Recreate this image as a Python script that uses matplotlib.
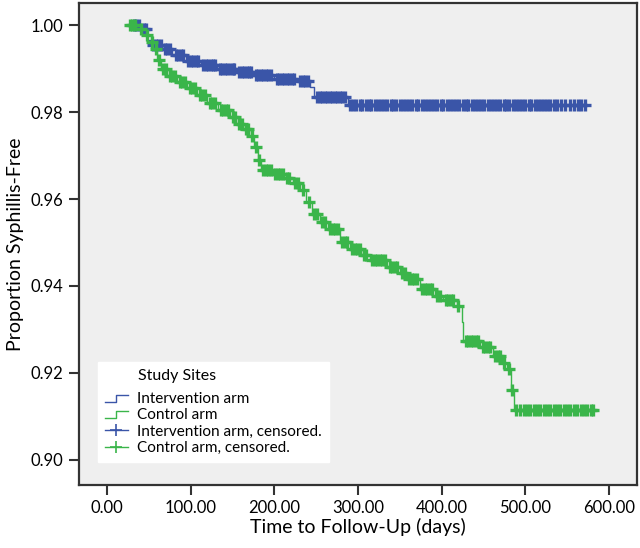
import matplotlib
matplotlib.use("Agg")
import matplotlib.pyplot as plt
import numpy as np
from matplotlib.lines import Line2D
from matplotlib.legend_handler import HandlerBase

plt.rcParams['font.family'] = ['Lato', 'DejaVu Sans']

# Krzywe Kaplana-Meiera: czasy zdarzen i wartosci przezycia po skoku
blue_t = [32, 40, 48, 52, 66, 78, 94, 112, 132, 155, 175, 200, 228, 243, 248, 288, 571]
blue_s = [1.0, 0.9990, 0.9965, 0.9954, 0.9945, 0.9931, 0.9917, 0.9909, 0.9899, 0.9891,
          0.9884, 0.9876, 0.9871, 0.9858, 0.9835, 0.9817, 0.9817]

green_t = [27, 38, 45, 52, 56, 60, 64, 72, 84, 96, 108, 120, 133, 147, 156, 163, 170, 176,
           180, 184, 198, 212, 222, 231, 238, 245, 254, 264, 278, 290, 304, 314, 335, 350,
           358, 374, 392, 402, 418, 424, 426, 446, 461, 472, 478, 483, 486, 581]
green_s = [1.0, 0.9990, 0.9978, 0.9960, 0.9945, 0.9920, 0.9900, 0.9882, 0.9868, 0.9855,
           0.9838, 0.9820, 0.9805, 0.9789, 0.9772, 0.9760, 0.9745, 0.9720, 0.9690, 0.9667,
           0.9658, 0.9648, 0.9636, 0.9620, 0.9592, 0.9565, 0.9548, 0.9530, 0.9502, 0.9484,
           0.9472, 0.9460, 0.9443, 0.9431, 0.9415, 0.9392, 0.9378, 0.9368, 0.9353, 0.9317,
           0.9273, 0.9259, 0.9239, 0.9222, 0.9209, 0.9160, 0.9115, 0.9115]

# Czasy obserwacji ucietych (censored)
blue_cens = [32, 35, 38, 44, 47, 55, 58, 61, 64, 69, 72, 75, 82, 85, 88, 91, 97, 100, 103,
             106, 109, 115, 118, 121, 124, 127, 129, 135, 138, 141, 144, 147, 150, 152, 158,
             161, 164, 167, 170, 172, 178, 181, 184, 187, 190, 193, 196, 203, 206, 209, 212,
             215, 218, 221, 224, 231, 234, 237, 240, 251, 254, 257, 260, 263, 266, 269, 272,
             275, 278, 281, 284, 291, 294, 298, 302, 305, 309, 313, 316, 320, 324, 327, 331,
             335, 339, 342, 346, 350, 354, 357, 361, 365, 369, 372, 376, 380, 384, 387, 391,
             395, 399, 402, 406, 410, 414, 417, 421, 425, 429, 432, 436, 440, 444, 447, 451,
             455, 459, 462, 466, 470, 474, 477, 481, 485, 489, 492, 496, 500, 504, 507, 511,
             515, 519, 522, 526, 530, 534, 538, 543, 548, 553, 558, 563, 567, 571]
green_cens = [27, 30, 34, 41, 48, 54, 58, 62, 67, 70, 75, 78, 81, 87, 90, 93, 99, 102, 105,
              111, 114, 117, 123, 126, 129, 136, 139, 142, 145, 150, 153, 158, 161, 166, 168,
              173, 178, 182, 187, 190, 193, 196, 201, 204, 207, 210, 215, 218, 225, 228, 234,
              241, 248, 251, 257, 260, 267, 270, 273, 276, 281, 284, 287, 293, 296, 299, 302,
              307, 310, 317, 320, 323, 326, 329, 332, 338, 341, 344, 347, 353, 356, 361, 364,
              367, 370, 377, 380, 383, 386, 389, 395, 398, 405, 408, 411, 414, 420, 429, 432,
              435, 438, 441, 444, 449, 452, 455, 458, 464, 467, 470, 475, 481, 484, 489, 494,
              498, 502, 506, 510, 514, 518, 522, 526, 530, 534, 538, 542, 546, 550, 554, 558,
              562, 566, 570, 574, 578, 581]

blue = '#3A55A8'
green = '#3AB54A'


def surv_at(times, surv, t):
    idx = np.searchsorted(times, t, side='right') - 1
    return np.array(surv)[np.clip(idx, 0, len(surv) - 1)]


class StepHandler(HandlerBase):
    def create_artists(self, legend, orig_handle, xdescent, ydescent, width, height, fontsize, trans):
        xs = np.array([0, 0.5, 0.5, 1.0]) * width - xdescent
        ys = np.array([0.15, 0.15, 0.75, 0.75]) * height - ydescent
        ln = Line2D(xs, ys, color=orig_handle.get_color(), lw=1.0)
        ln.set_transform(trans)
        return [ln]


fig = plt.figure(figsize=(6.4, 5.48), dpi=100)
ax = fig.add_axes([79 / 640, 1 - 485 / 548, 558 / 640, 482 / 548])
ax.set_facecolor('#EFEFEF')

ax.step(blue_t, blue_s, where='post', color=blue, lw=1.0)
ax.step(green_t, green_s, where='post', color=green, lw=1.0)
ax.plot(blue_cens, surv_at(blue_t, blue_s, blue_cens), '+', color=blue, ms=8, mew=2.4, ls='none')
ax.plot(green_cens, surv_at(green_t, green_s, green_cens), '+', color=green, ms=8, mew=2.4, ls='none')

ax.set_xlim(-33.5, 633.5)
ax.set_ylim(0.89425, 1.00506)
ax.set_xticks([0, 100, 200, 300, 400, 500, 600])
ax.set_xticklabels(['%.2f' % v for v in [0, 100, 200, 300, 400, 500, 600]])
ax.set_yticks([0.90, 0.92, 0.94, 0.96, 0.98, 1.00])
ax.set_yticklabels(['%.2f' % v for v in [0.90, 0.92, 0.94, 0.96, 0.98, 1.00]])
ax.tick_params(direction='out', length=7, width=1.5, color='#333333', labelsize=12, pad=4)
for sp in ax.spines.values():
    sp.set_color('#333333')
    sp.set_linewidth(1.6)

ax.set_xlabel('Time to Follow-Up (days)', fontsize=14, labelpad=1)
ax.set_ylabel('Proportion Syphillis-Free', fontsize=14, labelpad=5)

h1 = Line2D([], [], color=blue)
h2 = Line2D([], [], color=green)
h3 = Line2D([0, 1], [0, 0], color=blue, marker='+', ms=9, mew=1.2, lw=1.0)
h4 = Line2D([0, 1], [0, 0], color=green, marker='+', ms=9, mew=1.2, lw=1.0)
leg = ax.legend([h1, h2, h3, h4],
                ['Intervention arm', 'Control arm', 'Intervention arm, censored.', 'Control arm, censored.'],
                handler_map={h1: StepHandler(), h2: StepHandler()},
                title='        Study Sites', alignment='left',
                loc='lower left', bbox_to_anchor=(0.034, 0.048), borderaxespad=0,
                fontsize=11, title_fontsize=11.5, frameon=True, fancybox=False,
                edgecolor='white', facecolor='white', framealpha=1,
                handlelength=1.5, handletextpad=0.6, labelspacing=0.15,
                borderpad=0.45)
leg._legend_box.sep = 6.7

fig.savefig('out.png', dpi=100)
